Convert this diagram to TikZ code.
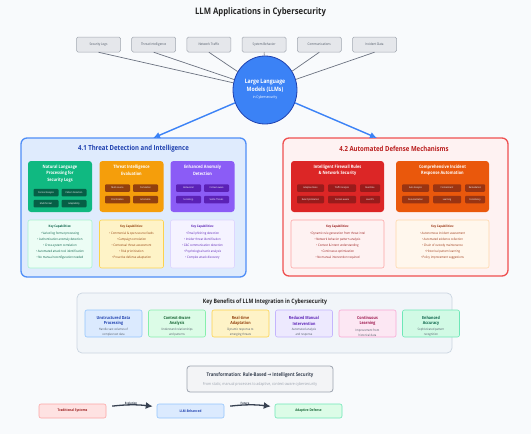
\documentclass[tikz,border=0pt]{standalone}
\usepackage{fontspec}
\setmainfont{Open Sans}[FakeStretch=0.86]
\newfontfamily\dejavu{DejaVu Sans}[FakeStretch=0.86]
\usetikzlibrary{arrows.meta,shapes.geometric}
\definecolor{bg}{HTML}{F8FAFC}
\definecolor{gfill}{HTML}{E5E7EB}
\definecolor{gbord}{HTML}{A1A7B0}
\definecolor{gtext}{HTML}{4B5563}
\definecolor{gline}{HTML}{6B7280}
\definecolor{llmblue}{HTML}{3B82F6}
\definecolor{llmdark}{HTML}{1E40AF}
\definecolor{bpanelf}{HTML}{DFEBFD}
\definecolor{bpanelb}{HTML}{4F8EF7}
\definecolor{rpanelf}{HTML}{FEF2F2}
\definecolor{rpanelb}{HTML}{EF5050}
\definecolor{rdark}{HTML}{B91C1C}
\definecolor{cgreen}{HTML}{10B981}
\definecolor{tgreen}{HTML}{065F46}
\definecolor{corange}{HTML}{F59E0B}
\definecolor{torange}{HTML}{92400E}
\definecolor{cpurple}{HTML}{8B5CF6}
\definecolor{tpurple}{HTML}{5B21B6}
\definecolor{cred}{HTML}{DC2626}
\definecolor{tred}{HTML}{991B1B}
\definecolor{cdorange}{HTML}{EA580C}
\definecolor{tdorange}{HTML}{9A3412}
\definecolor{kgreenf}{HTML}{ECFDF5}
\definecolor{kgreenb}{HTML}{A7F3D0}
\definecolor{kyellowf}{HTML}{FEF3C7}
\definecolor{kyellowb}{HTML}{FCD34D}
\definecolor{kpurplef}{HTML}{F5F3FF}
\definecolor{kpurpleb}{HTML}{DDD6FE}
\definecolor{kredf}{HTML}{FEF2F2}
\definecolor{kredb}{HTML}{FCA5A5}
\definecolor{korangef}{HTML}{FFF7ED}
\definecolor{korangeb}{HTML}{FED7AA}
\definecolor{benf}{HTML}{F1F5F9}
\definecolor{benb}{HTML}{CBD5E1}
\definecolor{b1f}{HTML}{DBEAFE}\definecolor{b1b}{HTML}{93C5FD}\definecolor{b1t}{HTML}{1E40AF}
\definecolor{b2f}{HTML}{DCFCE7}\definecolor{b2b}{HTML}{86EFAC}\definecolor{b2t}{HTML}{166534}
\definecolor{b3f}{HTML}{FEF3C7}\definecolor{b3b}{HTML}{FCD34D}\definecolor{b3t}{HTML}{92400E}
\definecolor{b4f}{HTML}{EDE9FE}\definecolor{b4b}{HTML}{C4B5FD}\definecolor{b4t}{HTML}{5B21B6}
\definecolor{b5f}{HTML}{FCE7F3}\definecolor{b5b}{HTML}{F9A8D4}\definecolor{b5t}{HTML}{9D174D}
\definecolor{b6f}{HTML}{D1FAE5}\definecolor{b6b}{HTML}{6EE7B7}\definecolor{b6t}{HTML}{065F46}
\definecolor{subgray}{HTML}{4B5563}
\definecolor{trf}{HTML}{F3F4F6}
\definecolor{trb}{HTML}{9CA3AF}
\definecolor{trt}{HTML}{374151}
\definecolor{trs}{HTML}{9CA3AF}
\definecolor{arr}{HTML}{374151}
\definecolor{tradf}{HTML}{FEE2E2}
\begin{document}
\begin{tikzpicture}[x=1pt,y=-1pt,
  inbox/.style={draw=gbord, fill=gfill, rounded corners=1.5pt, minimum width=44pt, minimum height=15pt, inner sep=0pt, font=\fontsize{3.4}{4}\selectfont, text=gtext, line width=0.5pt},
  feed/.style={draw=gline, line width=0.7pt},
  bluearrow/.style={draw=llmblue, line width=1.4pt, -{Latex[length=7pt,width=6.5pt]}},
  panel/.style={rounded corners=6pt, line width=1.3pt, inner sep=0pt},
  card/.style={rounded corners=3pt, inner sep=0pt, minimum height=51pt},
  tag/.style={rounded corners=1pt, inner sep=0pt, minimum height=7.5pt, text=white, font=\fontsize{2.4}{3}\selectfont},
  ctitle/.style={text=white, font=\bfseries\fontsize{4.5}{6.5}\selectfont, align=center, inner sep=0pt},
  capbox/.style={rounded corners=2pt, line width=0.6pt, minimum height=48pt, inner sep=0pt},
  captext/.style={font=\fontsize{3.2}{6.2}\selectfont, align=center, inner sep=0pt, anchor=north},
  bbox/.style={rounded corners=2pt, line width=0.6pt, minimum width=57pt, minimum height=27pt, inner sep=0pt},
  btitle/.style={font=\bfseries\fontsize{4.2}{5.5}\selectfont, align=center, inner sep=0pt},
  bsub/.style={font=\fontsize{3.1}{5}\selectfont, align=center, inner sep=0pt, text=subgray},
  flow/.style={rounded corners=2pt, line width=0.6pt, minimum width=67pt, minimum height=14pt, inner sep=0pt, font=\bfseries\fontsize{3.5}{4}\selectfont},
  bigarrow/.style={draw=arr, line width=1.3pt, -{Latex[length=7pt,width=7pt]}},
  flabel/.style={font=\bfseries\fontsize{3}{4}\selectfont, text=trt, inner sep=0pt}
]
\fill[bg] (0,0) rectangle (531,434);
\useasboundingbox (0,0) rectangle (531,434);

% title
\node[font=\bfseries\fontsize{9}{10}\selectfont, text=black!85] (title) at (260.5,12) {LLM Applications in Cybersecurity};

% input boxes
\node[inbox] (i1) at (98.5,44.5) {Security Logs};
\node[inbox] (i2) at (153.7,44.5) {Threat Intelligence};
\node[inbox] (i3) at (208.9,44.5) {Network Traffic};
\node[inbox] (i4) at (264.1,44.5) {System Behavior};
\node[inbox] (i5) at (319.3,44.5) {Communications};
\node[inbox] (i6) at (374.5,44.5) {Incident Data};

% LLM circle
\node[ellipse, draw=llmdark, fill=llmblue, line width=0.8pt, minimum width=64pt, minimum height=68pt, inner sep=0pt] (llm) at (265,90) {};
\node[text=white, font=\bfseries\fontsize{6}{7.5}\selectfont, align=center, inner sep=0pt] (llmt) at (265,86) {Large Language\\Models (LLMs)};
\node[text=white, font=\fontsize{3.8}{4.5}\selectfont, inner sep=0pt] (llms) at (265,97.5) {in Cybersecurity};

\foreach \i in {1,...,6} \draw[feed] (i\i.south) -- (llm);

% panels
\node[panel, draw=bpanelb, fill=bpanelf, minimum width=225pt, minimum height=139pt] (lp) at (133.5,207.5) {};
\node[panel, draw=rpanelb, fill=rpanelf, minimum width=225pt, minimum height=138pt] (rp) at (395.5,207) {};
\coordinate (la) at (153,138);
\coordinate (ra) at (377,138);
\draw[bluearrow] (llm) -- (la);
\draw[bluearrow] (llm) -- (ra);

\node[font=\bfseries\fontsize{7}{8}\selectfont, text=llmdark, inner sep=0pt] (lpt) at (133.5,149) {4.1 Threat Detection and Intelligence};
\node[font=\bfseries\fontsize{7}{8}\selectfont, text=rdark, inner sep=0pt] (rpt) at (394,149) {4.2 Automated Defense Mechanisms};

% left cards
\node[card, fill=cgreen, minimum width=64pt] (c1) at (60,186.5) {};
\node[ctitle] (c1t) at (60,173.5) {Natural Language\\Processing for\\Security Logs};
\node[tag, fill=tgreen, minimum width=25pt] (c1a) at (46,192.5) {Context Analysis};
\node[tag, fill=tgreen, minimum width=25pt] (c1b) at (74,192.5) {Pattern Detection};
\node[tag, fill=tgreen, minimum width=25pt] (c1c) at (46,203.5) {Multi-format};
\node[tag, fill=tgreen, minimum width=25pt] (c1d) at (74,203.5) {Adaptability};

\node[card, fill=corange, minimum width=64pt] (c2) at (131.5,186.5) {};
\node[ctitle] (c2t) at (131.5,170.5) {Threat Intelligence\\Evaluation};
\node[tag, fill=torange, minimum width=25pt] (c2a) at (117.5,188) {Multi-source};
\node[tag, fill=torange, minimum width=25pt] (c2b) at (145.5,188) {Correlation};
\node[tag, fill=torange, minimum width=25pt] (c2c) at (117.5,199.5) {Prioritization};
\node[tag, fill=torange, minimum width=25pt] (c2d) at (145.5,199.5) {Actionable};

\node[card, fill=cpurple, minimum width=64pt] (c3) at (202.5,186.5) {};
\node[ctitle] (c3t) at (202.5,170.5) {Enhanced Anomaly\\Detection};
\node[tag, fill=tpurple, minimum width=25pt] (c3a) at (188.5,188) {Behavioral};
\node[tag, fill=tpurple, minimum width=25pt] (c3b) at (216.5,188) {Context-aware};
\node[tag, fill=tpurple, minimum width=25pt] (c3c) at (188.5,199.5) {Social Eng.};
\node[tag, fill=tpurple, minimum width=25pt] (c3d) at (216.5,199.5) {Subtle Threats};

% left capability boxes
\node[capbox, draw=kgreenb, fill=kgreenf, minimum width=64pt] (k1) at (60,244) {};
\node[captext, text=tgreen] (k1t) at (60,224.5) {\textbf{Key Capabilities:}\\[0.8pt]• Varied log format processing\\• Authentication anomaly detection\\• Cross-system correlation\\• Automated attack tool identification\\• No manual reconfiguration needed};
\node[capbox, draw=kyellowb, fill=kyellowf, minimum width=64pt] (k2) at (131.5,244) {};
\node[captext, text=torange] (k2t) at (131.5,224.5) {\textbf{Key Capabilities:}\\[0.8pt]• Commercial \& open-source feeds\\• Campaign correlation\\• Contextual threat assessment\\• Risk prioritization\\• Proactive defense adaptation};
\node[capbox, draw=kpurpleb, fill=kpurplef, minimum width=64pt] (k3) at (202.5,244) {};
\node[captext, text=tpurple] (k3t) at (202.5,224.5) {\textbf{Key Capabilities:}\\[0.8pt]• Email phishing detection\\• Insider threat identification\\• C\&C communication detection\\• Psychological tactic analysis\\• Complex attack discovery};

% right cards
\node[card, fill=cred, minimum width=93pt] (c4) at (337.5,186.5) {};
\node[ctitle] (c4t) at (337.5,170.5) {Intelligent Firewall Rules\\\& Network Security};
\node[tag, fill=tred, minimum width=27pt] (c4a) at (310.5,188) {Adaptive Rules};
\node[tag, fill=tred, minimum width=28pt] (c4b) at (342,188) {Traffic Analysis};
\node[tag, fill=tred, minimum width=20pt] (c4c) at (370,188) {Real-time};
\node[tag, fill=tred, minimum width=27pt] (c4d) at (310.5,199.5) {Rule Optimization};
\node[tag, fill=tred, minimum width=28pt] (c4e) at (342,199.5) {Context-aware};
\node[tag, fill=tred, minimum width=20pt] (c4f) at (370,199.5) {Low FPs};

\node[card, fill=cdorange, minimum width=93pt] (c5) at (442.5,186.5) {};
\node[ctitle] (c5t) at (442.5,170.5) {Comprehensive Incident\\Response Automation};
\node[tag, fill=tdorange, minimum width=27pt] (c5a) at (415.5,188) {Auto Analysis};
\node[tag, fill=tdorange, minimum width=28pt] (c5b) at (447,188) {Containment};
\node[tag, fill=tdorange, minimum width=20pt] (c5c) at (475,188) {Remediation};
\node[tag, fill=tdorange, minimum width=27pt] (c5d) at (415.5,199.5) {Documentation};
\node[tag, fill=tdorange, minimum width=28pt] (c5e) at (447,199.5) {Learning};
\node[tag, fill=tdorange, minimum width=20pt] (c5f) at (475,199.5) {Consistency};

% right capability boxes
\node[capbox, draw=kredb, fill=kredf, minimum width=93pt] (k4) at (337.5,244) {};
\node[captext, text=tred] (k4t) at (337.5,224.5) {\textbf{Key Capabilities:}\\[0.8pt]• Dynamic rule generation from threat intel\\• Network behavior pattern analysis\\• Context \& intent understanding\\• Continuous optimization\\• No manual intervention required};
\node[capbox, draw=korangeb, fill=korangef, minimum width=93pt] (k5) at (442.5,244) {};
\node[captext, text=tdorange] (k5t) at (442.5,224.5) {\textbf{Key Capabilities:}\\[0.8pt]• Autonomous incident assessment\\• Automated evidence collection\\• Chain of custody maintenance\\• Historical pattern learning\\• Policy improvement suggestions};

% key benefits
\node[rounded corners=5pt, draw=benb, fill=benf, line width=0.7pt, minimum width=375pt, minimum height=60pt, inner sep=0pt] (ben) at (264.5,323) {};
\node[font=\bfseries\fontsize{6}{7}\selectfont, text=black!85, inner sep=0pt] (bent) at (265,302) {Key Benefits of LLM Integration in Cybersecurity};

\node[bbox, draw=b1b, fill=b1f] (b1) at (113.5,323.5) {};
\node[btitle, text=b1t] (b1t) at (113.5,320.8) {Unstructured Data\\Processing};
\node[bsub] (b1s) at (113.5,332.5) {Handle vast volumes of\\complex text data};
\node[bbox, draw=b2b, fill=b2f] (b2) at (177,323.5) {};
\node[btitle, text=b2t] (b2t) at (177,320.8) {Context-Aware\\Analysis};
\node[bsub] (b2s) at (177,332.5) {Understand relationships\\and patterns};
\node[bbox, draw=b3b, fill=b3f] (b3) at (240.5,323.5) {};
\node[btitle, text=b3t] (b3t) at (240.5,320.8) {Real-time\\Adaptation};
\node[bsub] (b3s) at (240.5,332.5) {Dynamic response to\\emerging threats};
\node[bbox, draw=b4b, fill=b4f] (b4) at (304,323.5) {};
\node[btitle, text=b4t] (b4t) at (304,320.8) {Reduced Manual\\Intervention};
\node[bsub] (b4s) at (304,332.5) {Automated analysis\\and response};
\node[bbox, draw=b5b, fill=b5f] (b5) at (367.5,323.5) {};
\node[btitle, text=b5t] (b5t) at (367.5,320.8) {Continuous\\Learning};
\node[bsub] (b5s) at (367.5,332.5) {Improvement from\\historical data};
\node[bbox, draw=b6b, fill=b6f] (b6) at (431,323.5) {};
\node[btitle, text=b6t] (b6t) at (431,320.8) {Enhanced\\Accuracy};
\node[bsub] (b6s) at (431,332.5) {Sophisticated pattern\\recognition};

% transformation
\node[rounded corners=3pt, draw=trb, fill=trf, line width=0.8pt, minimum width=146pt, minimum height=26pt, inner sep=0pt] (tr) at (260,379) {};
\node[font=\bfseries\fontsize{5}{6}\selectfont, text=trt, inner sep=0pt] (trt) at (260,375.5) {Transformation: Rule-Based {\dejavu →} Intelligent Security};
\node[font=\fontsize{4}{5}\selectfont, text=trs, inner sep=0pt] (trs) at (260,384) {From static, manual processes to adaptive, context-aware cybersecurity};

% flow
\node[flow, draw=kredb, fill=tradf, text=tred] (f1) at (72.5,411) {Traditional Systems};
\node[flow, draw=b1b, fill=b1f, text=b1t] (f2) at (190.5,411) {LLM-Enhanced};
\node[flow, draw=b6b, fill=b2f, text=b2t] (f3) at (308.5,411) {Adaptive Defense};
\draw[bigarrow, shorten <=6pt, shorten >=4pt] (f1) to[bend left=7] (f2);
\draw[bigarrow, shorten <=6pt, shorten >=4pt] (f2) to[bend left=7] (f3);
\node[flabel] (l1) at (131,403) {Evolution};
\node[flabel] (l2) at (245,403) {Future};
\end{tikzpicture}
\end{document}
